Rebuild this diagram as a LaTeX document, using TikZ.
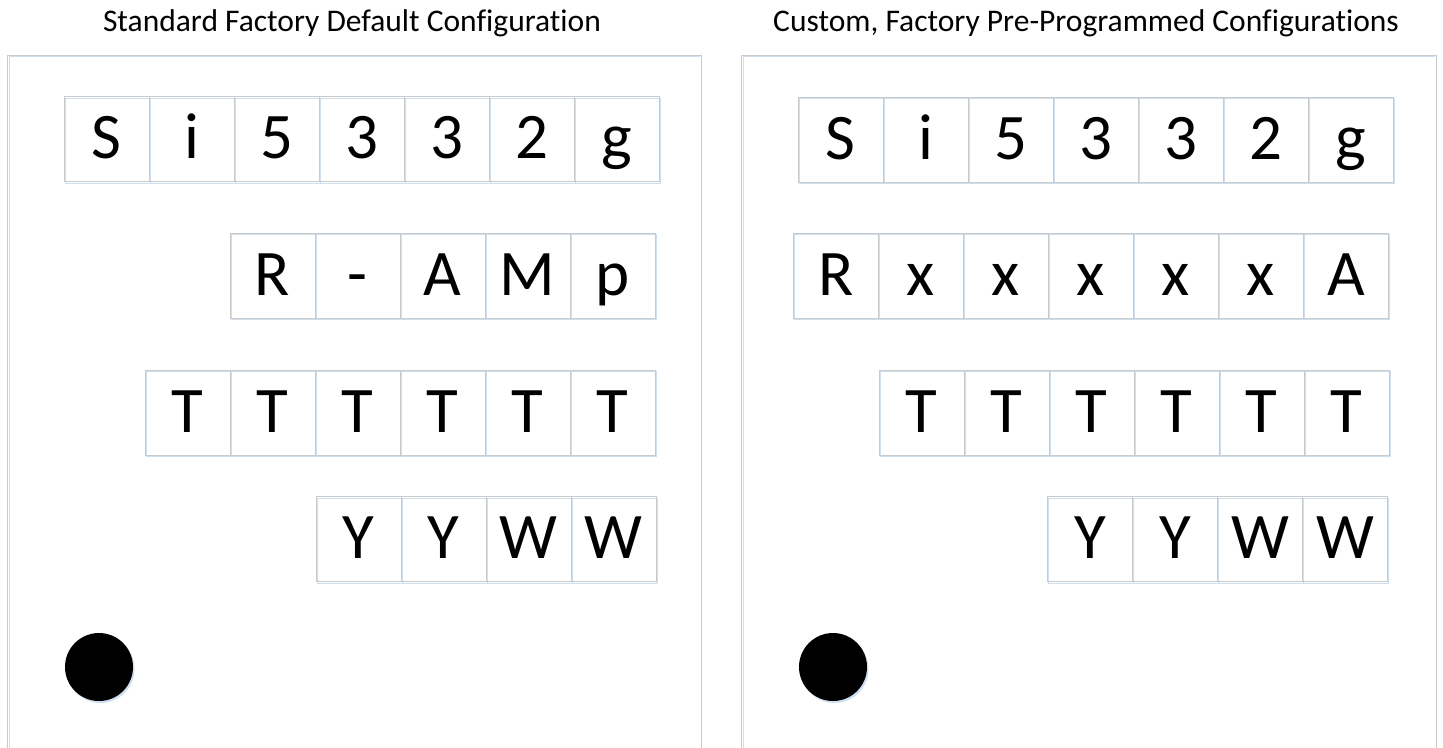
\documentclass[tikz,border=0pt]{standalone}
\usepackage{fontspec}
\setmainfont{Carlito}[Ligatures={NoCommon}]
\newfontfamily\bigfont{Carlito}[Ligatures={NoCommon}]
\definecolor{boxgray}{HTML}{CACACA}
\definecolor{shadeblue}{HTML}{CFDFF0}
\begin{document}
\begin{tikzpicture}[x=1pt,y=-1pt,
  cell/.style={minimum width=85pt, minimum height=85pt, inner sep=0pt, outer sep=0pt,
    draw=boxgray, line width=0.9pt,
    preaction={draw=shadeblue, line width=0.9pt, transform canvas={shift={(1.2pt,-1.5pt)}}},
    font=\bigfont\fontsize{65}{65}\selectfont, text height=39pt, text depth=0pt},
  panel/.style={draw=boxgray, line width=0.9pt},
  panelshade/.style={draw=shadeblue, line width=0.9pt},
  title/.style={font=\fontsize{31.5}{32}\selectfont, anchor=base, inner sep=0pt},
  dot/.style={circle, fill=black, minimum size=68pt, inner sep=0pt,
    preaction={fill=shadeblue, transform canvas={shift={(1.5pt,-2pt)}}}}]
\useasboundingbox (0,0) rectangle (1443,747);
% titles
\node[title] (t1) at (352,31.5) {Standard Factory Default Configuration};
\node[title] (t2) at (1086,31.5) {Custom, Factory Pre-Programmed Configurations};
% panels
\draw[panelshade] (9.2,760) -- (9.2,56.5) -- (700,56.5);
\draw[panel] (7.5,760) -- (7.5,55) -- (701.5,55) -- (701.5,760);
\draw[panelshade] (743.2,760) -- (743.2,56.5) -- (1434.5,56.5);
\draw[panel] (741.5,760) -- (741.5,55) -- (1436,55) -- (1436,760);
% left panel rows
\foreach \t [count=\i] in {S,i,5,3,3,2,g}
  \node[cell] (la\i) at (64+42.5+85*\i-85,139) {\t};
\foreach \t [count=\i] in {R,-,A,M,p}
  \node[cell] (lb\i) at (230+42.5+85*\i-85,275.5) {\t};
\foreach \t [count=\i] in {T,T,T,T,T,T}
  \node[cell] (lc\i) at (145+42.5+85*\i-85,412.5) {\t};
\foreach \t [count=\i] in {Y,Y,W,W}
  \node[cell] (ld\i) at (316+42.5+85*\i-85,539) {\t};
\node[dot] (ldot) at (99,667) {};
% right panel rows
\foreach \t [count=\i] in {S,i,5,3,3,2,g}
  \node[cell] (ra\i) at (798+42.5+85*\i-85,139.5) {\t};
\foreach \t [count=\i] in {R,x,x,x,x,x,A}
  \node[cell] (rb\i) at (793.5+42.5+85*\i-85,275.5) {\t};
\foreach \t [count=\i] in {T,T,T,T,T,T}
  \node[cell] (rc\i) at (879+42.5+85*\i-85,412.5) {\t};
\foreach \t [count=\i] in {Y,Y,W,W}
  \node[cell] (rd\i) at (1047.5+42.5+85*\i-85,539) {\t};
\node[dot] (rdot) at (833,667) {};
\end{tikzpicture}
\end{document}
